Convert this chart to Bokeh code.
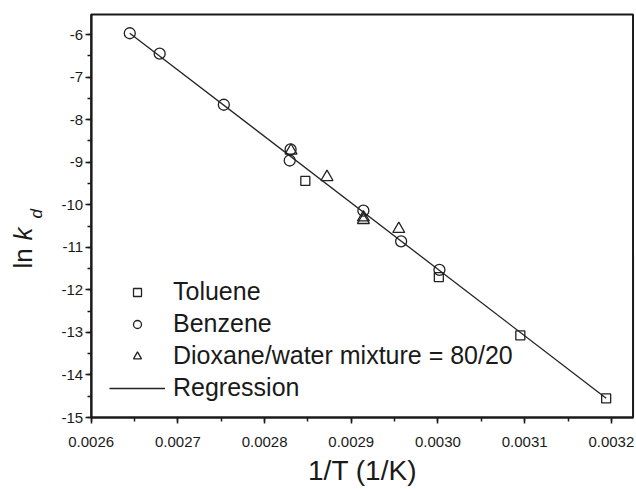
import math
from bokeh.plotting import figure
from bokeh.models import (SingleIntervalTicker, PrintfTickFormatter, Label,
                          Legend, LegendItem, LinearAxis, BoxAnnotation)
from bokeh.embed import file_html
from bokeh.resources import INLINE

# ---- data ----
toluene_x = [0.002847, 0.003001, 0.003095, 0.003194]
toluene_y = [-9.44, -11.70, -13.07, -14.55]

benzene_x = [0.0026445, 0.002679, 0.002753, 0.002830, 0.002829, 0.002914, 0.0029575, 0.0030017]
benzene_y = [-5.97, -6.45, -7.65, -8.70, -8.96, -10.14, -10.86, -11.53]

dioxane_x = [0.0028305, 0.002872, 0.002914, 0.002914, 0.0029548]
dioxane_y = [-8.73, -9.35, -10.30, -10.36, -10.57]

regression_x = [0.0026445, 0.003194]
regression_y = [-5.97, -14.545]

x_tick_interval = 0.0001
y_tick_interval = 1

# plot-area extents (axis box)
X_MIN, X_MAX = 0.0026, 0.003225
Y_MIN, Y_MAX = -15.0, -5.53

FONT = "Liberation Sans"
INK = "#1a1a1a"
W, H = 636, 489

# the frame covers the whole canvas so that the axis titles are not clipped;
# the axes are pinned at the plot-area edges with fixed_location
p = figure(width=W, height=H, output_backend="svg", toolbar_location=None,
           x_range=(0.0024954, 0.003229), y_range=(-16.691, -5.201),
           min_border=0, x_axis_type=None, y_axis_type=None)
p.grid.visible = False
p.outline_line_color = None
p.background_fill_color = "white"
p.border_fill_color = "white"

xaxis = LinearAxis(fixed_location=Y_MIN, bounds=(X_MIN, X_MAX),
                   ticker=SingleIntervalTicker(interval=x_tick_interval, num_minor_ticks=2),
                   formatter=PrintfTickFormatter(format="%.4f"))
yaxis = LinearAxis(fixed_location=X_MIN, bounds=(Y_MIN, Y_MAX),
                   ticker=SingleIntervalTicker(interval=y_tick_interval, num_minor_ticks=2),
                   formatter=PrintfTickFormatter(format="%d"))
for ax in (xaxis, yaxis):
    ax.axis_line_color = INK
    ax.axis_line_width = 2
    ax.major_tick_line_color = INK
    ax.minor_tick_line_color = INK
    ax.major_tick_line_width = 1.5
    ax.minor_tick_line_width = 1.5
    ax.major_tick_in = 0
    ax.major_tick_out = 6
    ax.minor_tick_in = 0
    ax.minor_tick_out = 4
    ax.major_label_text_font = FONT
    ax.major_label_text_font_size = "15px"
    ax.major_label_text_color = INK
xaxis.major_label_standoff = 13
yaxis.major_label_standoff = 2
p.add_layout(xaxis, "below")
p.add_layout(yaxis, "left")

# box around the plot area (top and right edges)
p.add_layout(BoxAnnotation(left=X_MIN, right=X_MAX, bottom=Y_MIN, top=Y_MAX,
                           fill_alpha=0, line_color=INK, line_width=2,
                           line_alpha=1, level="underlay"))

r_line = p.line(regression_x, regression_y, line_color="#222222", line_width=1.3)
r_tol = p.scatter(toluene_x, toluene_y, marker="square", size=9,
                  fill_color=None, line_color="#222222", line_width=1.3)
r_ben = p.scatter(benzene_x, benzene_y, marker="circle", size=11,
                  fill_color=None, line_color="#222222", line_width=1.3)
r_dio = p.scatter(dioxane_x, dioxane_y, marker="triangle", size=12,
                  fill_color=None, line_color="#222222", line_width=1.3)

legend = Legend(items=[
    LegendItem(label="Toluene", renderers=[r_tol]),
    LegendItem(label="Benzene", renderers=[r_ben]),
    LegendItem(label="Dioxane/water mixture = 80/20", renderers=[r_dio]),
    LegendItem(label="Regression", renderers=[r_line]),
], location=(109, 87))
legend.border_line_color = None
legend.background_fill_alpha = 0
legend.padding = 0
legend.margin = 0
legend.spacing = 3
legend.glyph_width = 56
legend.glyph_height = 20
legend.label_height = 24
legend.label_standoff = 8
legend.label_text_font = FONT
legend.label_text_font_size = "25px"
legend.label_text_color = INK
p.add_layout(legend)

# axis titles (screen units: origin at the canvas bottom-left)
p.add_layout(Label(x=362, y=19, x_units="screen", y_units="screen",
                   text="1/T (1/K)", text_align="center",
                   text_baseline="alphabetic", text_font=FONT,
                   text_font_size="28px", text_color=INK))
p.add_layout(Label(x=22, y=221, x_units="screen", y_units="screen",
                   text="ln", angle=math.pi / 2, text_align="left",
                   text_baseline="alphabetic", text_font=FONT,
                   text_font_size="26px", text_color=INK))
p.add_layout(Label(x=22, y=249, x_units="screen", y_units="screen",
                   text="k", angle=math.pi / 2, text_align="left",
                   text_baseline="alphabetic", text_font=FONT,
                   text_font_style="italic",
                   text_font_size="26px", text_color=INK))
p.add_layout(Label(x=36, y=271, x_units="screen", y_units="screen",
                   text="d", angle=math.pi / 2, text_align="left",
                   text_baseline="alphabetic", text_font=FONT,
                   text_font_style="italic",
                   text_font_size="17px", text_color=INK))

open("out.html", "w").write(file_html(p, INLINE))
